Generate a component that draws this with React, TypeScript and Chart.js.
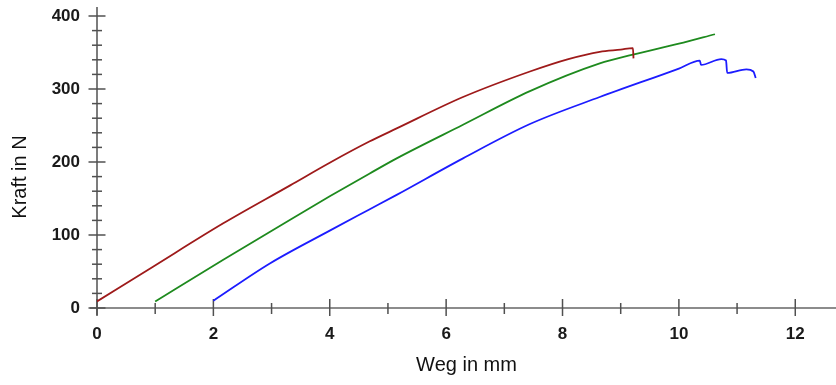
import React, { useEffect, useRef } from "react";
import { Chart, registerables } from "chart.js";

Chart.register(...registerables);

// ---- data (Weg in mm -> Kraft in N) ----
const redX = [0, 0.97, 2.17, 3.32, 4.0, 4.68, 5.15, 6.29, 7.44, 8.1, 8.64, 9.0, 9.21, 9.22];
const redY = [9, 57, 116, 168, 199, 228, 246, 289, 324, 341, 351, 354, 356, 342];

const greenX = [1.0, 2.17, 3.32, 4.0, 4.68, 5.15, 6.29, 7.44, 8.64, 9.21, 10.0, 10.62];
const greenY = [9, 66, 121, 153, 184, 205, 251, 297, 335, 347, 362, 375];

const blueX = [2.0, 2.97, 4.0, 4.68, 5.15, 6.29, 7.44, 8.64, 10.0, 10.36, 10.38, 10.73, 10.81, 10.83, 11.16, 11.28, 11.32];
const blueY = [10, 61, 106, 135, 155, 205, 252, 289, 328, 339, 333, 341, 339, 322, 327, 324, 315];

const xLabelValues = [0, 2, 4, 6, 8, 10, 12];
const yLabelValues = [0, 100, 200, 300, 400];
const xMinorStep = 1;
const yMinorStep = 20;
const xTitle = "Weg in mm";
const yTitle = "Kraft in N";

const toPoints = (xs: number[], ys: number[]) => xs.map((x, i) => ({ x, y: ys[i] }));

const FONT = '"Liberation Sans", Arial, sans-serif';

const axesPlugin = {
  id: "customAxes",
  beforeDatasetsDraw(chart: any) {
    const { ctx, scales } = chart;
    const xs = scales.x;
    const ys = scales.y;
    const x0 = xs.getPixelForValue(0);
    const y0 = ys.getPixelForValue(0);
    const yTop = ys.getPixelForValue(yLabelValues[yLabelValues.length - 1]);
    ctx.save();
    const line = (a: number, b: number, c: number, d: number) => {
      ctx.beginPath();
      ctx.moveTo(a, b);
      ctx.lineTo(c, d);
      ctx.stroke();
    };
    // x axis line
    ctx.strokeStyle = "#8c8c8c";
    ctx.lineWidth = 2;
    line(x0 - 7, y0, chart.width, y0);
    // y axis line
    ctx.strokeStyle = "#505050";
    ctx.lineWidth = 1.5;
    line(x0, yTop - 9, x0, y0 + 7);
    // y ticks
    for (let v = 0; v <= yLabelValues[yLabelValues.length - 1]; v += yMinorStep) {
      const py = ys.getPixelForValue(v);
      const half = yLabelValues.includes(v) ? 8.5 : 5;
      line(x0 - half, py, x0 + half, py);
    }
    // x ticks
    for (let v = 0; v <= xLabelValues[xLabelValues.length - 1]; v += xMinorStep) {
      const px = xs.getPixelForValue(v);
      const major = xLabelValues.includes(v);
      line(px, y0 - (major ? 9 : 5), px, y0 + (major ? 8 : 6));
    }
    ctx.restore();
  },
  afterDraw(chart: any) {
    const { ctx } = chart;
    ctx.save();
    ctx.fillStyle = "#111";
    ctx.font = `20px ${FONT}`;
    ctx.translate(20, 177);
    ctx.rotate(-Math.PI / 2);
    ctx.textAlign = "center";
    ctx.textBaseline = "middle";
    ctx.fillText(yTitle, 0, 0);
    ctx.restore();
  },
};

export default function App() {
  const canvasRef = useRef<HTMLCanvasElement | null>(null);

  useEffect(() => {
    if (!canvasRef.current) return;
    const lineStyle = {
      borderWidth: 1.8,
      pointRadius: 0,
      cubicInterpolationMode: "monotone" as const,
    };
    const chart = new Chart(canvasRef.current, {
      type: "line",
      data: {
        datasets: [
          { data: toPoints(redX, redY), borderColor: "#9e1a1a", ...lineStyle },
          { data: toPoints(greenX, greenY), borderColor: "#1e8a1e", ...lineStyle },
          { data: toPoints(blueX, blueY), borderColor: "#1c1cff", ...lineStyle },
        ],
      },
      options: {
        animation: false,
        responsive: false,
        events: [],
        layout: { padding: { top: 16, right: 0, bottom: 0, left: 0 } },
        plugins: { legend: { display: false }, tooltip: { enabled: false } },
        scales: {
          x: {
            type: "linear",
            min: 0,
            max: 12.7,
            border: { display: false },
            grid: { display: false, drawTicks: false },
            afterBuildTicks: (scale: any) => {
              scale.ticks = xLabelValues.map((v) => ({ value: v }));
            },
            afterFit: (scale: any) => {
              scale.height = 77;
              scale.paddingLeft = 0;
              scale.paddingRight = 0;
            },
            ticks: {
              padding: 16,
              color: "#1a1a1a",
              font: { family: FONT, size: 17, weight: "bold" },
              maxRotation: 0,
              callback: (v: any) => String(v),
            },
            title: {
              display: true,
              text: xTitle,
              color: "#111",
              font: { family: FONT, size: 20 },
              padding: { top: 0, bottom: 8 },
            },
          },
          y: {
            type: "linear",
            min: 0,
            max: 400,
            border: { display: false },
            grid: { display: false, drawTicks: false },
            afterBuildTicks: (scale: any) => {
              scale.ticks = yLabelValues.map((v) => ({ value: v }));
            },
            afterFit: (scale: any) => {
              scale.width = 97;
              scale.paddingTop = 0;
              scale.paddingBottom = 0;
            },
            ticks: {
              padding: 17,
              color: "#1a1a1a",
              font: { family: FONT, size: 17, weight: "bold" },
              callback: (v: any) => String(v),
            },
          },
        },
      },
      plugins: [axesPlugin],
    });
    return () => chart.destroy();
  }, []);

  return (
    <div style={{ position: "fixed", left: 0, top: 0, width: 836, height: 385, background: "#fff" }}>
      <canvas ref={canvasRef} width={836} height={385} style={{ display: "block" }} />
    </div>
  );
}
